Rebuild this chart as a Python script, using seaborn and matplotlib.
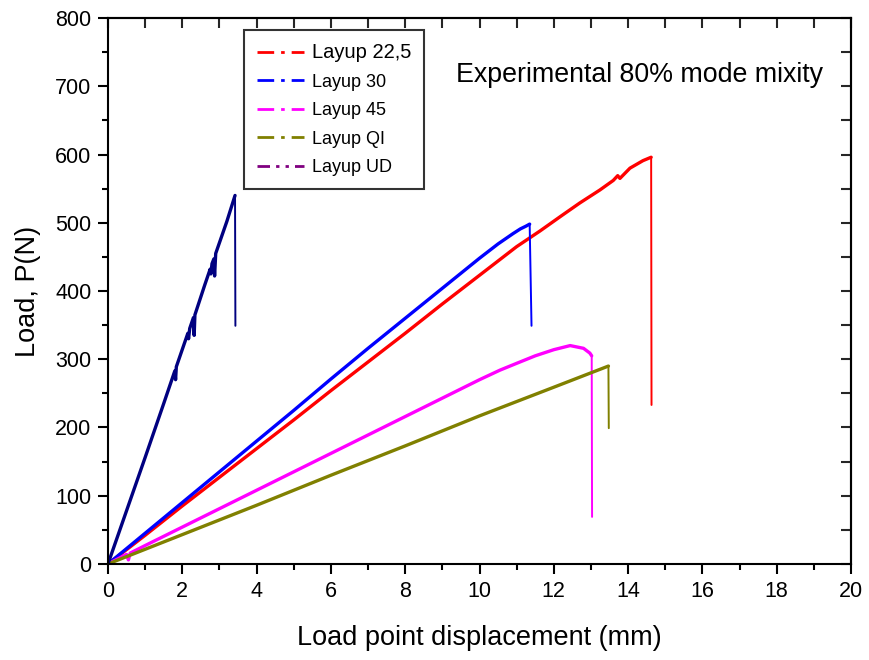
import numpy as np
import pandas as pd
import matplotlib
matplotlib.use("Agg")
import matplotlib.pyplot as plt
from matplotlib.lines import Line2D
from matplotlib.ticker import MultipleLocator
import seaborn as sns

# Load-displacement records (mm, N); the last point of each is the load drop after failure
disp_225 = [0, 1, 2, 3, 4, 5, 6, 7, 8, 9, 10, 11, 11.63, 12.2, 12.7, 13.24, 13.6, 13.72, 13.78,
            14.05, 14.4, 14.62, 14.63]
load_225 = [0, 42, 85, 127, 169, 211, 254, 296, 338, 381, 423, 465, 488, 510, 529, 548, 562, 569, 565,
            580, 591, 596, 233]

disp_30 = [0, 1, 2, 3, 4, 5, 6, 7, 8, 9, 10, 10.5, 10.9, 11.1, 11.25, 11.35, 11.4]
load_30 = [0, 45, 90, 135, 180, 225, 271, 316, 360, 404, 448, 469, 484, 491, 495, 498, 349]

disp_45 = [0, 0.5, 0.55, 0.6, 1, 2, 3, 4, 5, 6, 7, 8, 9, 10, 10.55, 11, 11.5, 12, 12.44, 12.8, 12.97, 13.02, 13.03]
load_45 = [0, 14, 6, 16, 27, 54, 81, 108, 135, 162, 189, 216, 243, 270, 284, 294, 305, 314, 320, 316, 309, 305, 69]

disp_qi = [0, 2, 4, 6, 8, 10, 12, 13.47, 13.48]
load_qi = [0, 43, 86, 130, 173, 217, 259, 290, 199]

disp_ud = [0, 0.5, 1.0, 1.5, 1.8, 1.82, 1.84, 2.15, 2.17, 2.2, 2.3, 2.32, 2.34, 2.6, 2.75,
           2.77, 2.8, 2.85, 2.87, 2.9, 3.2, 3.42, 3.43]
load_ud = [0, 78, 156, 235, 283, 270, 289, 338, 330, 345, 361, 335, 365, 408, 432,
           425, 440, 447, 422, 455, 502, 540, 349]

labels = ["Layup 22,5", "Layup 30", "Layup 45", "Layup QI", "Layup UD"]
curve_colors = ["#ff0000", "#0000ff", "#ff00ff", "#808000", "#000080"]
legend_colors = ["#ff0000", "#0000ff", "#ff00ff", "#808000", "#800080"]

x_ticks = [0, 2, 4, 6, 8, 10, 12, 14, 16, 18, 20]
y_ticks = [0, 100, 200, 300, 400, 500, 600, 700, 800]

sns.set_style("ticks")
plt.rcParams["font.family"] = ["Liberation Sans", "DejaVu Sans"]
plt.rcParams["text.color"] = "black"
plt.rcParams["axes.labelcolor"] = "black"

fig = plt.figure(figsize=(8.7, 6.6), dpi=100)
ax = fig.add_axes([0.1241, 0.1455, 0.8541, 0.8272])

series = [(disp_225, load_225), (disp_30, load_30), (disp_45, load_45),
          (disp_qi, load_qi), (disp_ud, load_ud)]
for i, (xs, ys) in enumerate(series):
    df = pd.DataFrame({"x": xs, "y": ys})
    # loading branch
    sns.lineplot(data=df.iloc[:-1], x="x", y="y", sort=False, estimator=None,
                 color=curve_colors[i], lw=2.4, ax=ax)
    # failure drop
    sns.lineplot(data=df.iloc[-2:], x="x", y="y", sort=False, estimator=None,
                 color=curve_colors[i], lw=1.4, ax=ax)

ax.set_xlim(0, 20)
ax.set_ylim(0, 800)
ax.set_xticks(x_ticks)
ax.set_yticks(y_ticks)
ax.xaxis.set_minor_locator(MultipleLocator(1))
ax.yaxis.set_minor_locator(MultipleLocator(50))
ax.tick_params(which="major", direction="out", length=7, width=1.5, labelsize=15.5, pad=5,
               color="black", labelcolor="black")
ax.tick_params(which="minor", direction="out", length=4.5, width=1.5, color="black")
for s in ax.spines.values():
    s.set_visible(True)
    s.set_linewidth(1.5)
    s.set_color("black")

# inward ticks on the top and right frame
top = ax.secondary_xaxis("top")
top.set_xticks(x_ticks)
top.xaxis.set_minor_locator(MultipleLocator(1))
top.tick_params(which="both", direction="in", length=7.5, width=1.5, labeltop=False)
top.spines["top"].set_linewidth(1.5)
right = ax.secondary_yaxis("right")
right.set_yticks(y_ticks)
right.yaxis.set_minor_locator(MultipleLocator(50))
right.tick_params(which="both", direction="in", length=7.5, width=1.5, labelright=False)
right.spines["right"].set_linewidth(1.5)

ax.set_xlabel("Load point displacement (mm)", fontsize=19.5, labelpad=17)
ax.set_ylabel("Load, P(N)", fontsize=19.5, labelpad=10)

ax.text(14.3, 716, "Experimental 80% mode mixity", fontsize=19.3, ha="center", va="center")

handles = []
for i, lab in enumerate(labels):
    if i == 4:
        ls = (0, (4.5, 2.2, 1.2, 2.2, 1.2, 2.2))
    else:
        ls = (0, (6, 2.5, 1.3, 2.5))
    handles.append(Line2D([0], [0], color=legend_colors[i], lw=2, linestyle=ls))
leg = ax.legend(handles, labels, loc="upper left", bbox_to_anchor=(0.183, 0.978),
                borderaxespad=0, fontsize=13, frameon=True, fancybox=False,
                handlelength=2.6, handletextpad=0.45, labelspacing=0.64,
                borderpad=0.72, edgecolor="black")
leg.get_frame().set_linewidth(1.5)
leg.get_texts()[0].set_fontsize(14.5)

fig.savefig("out.png", dpi=100)
